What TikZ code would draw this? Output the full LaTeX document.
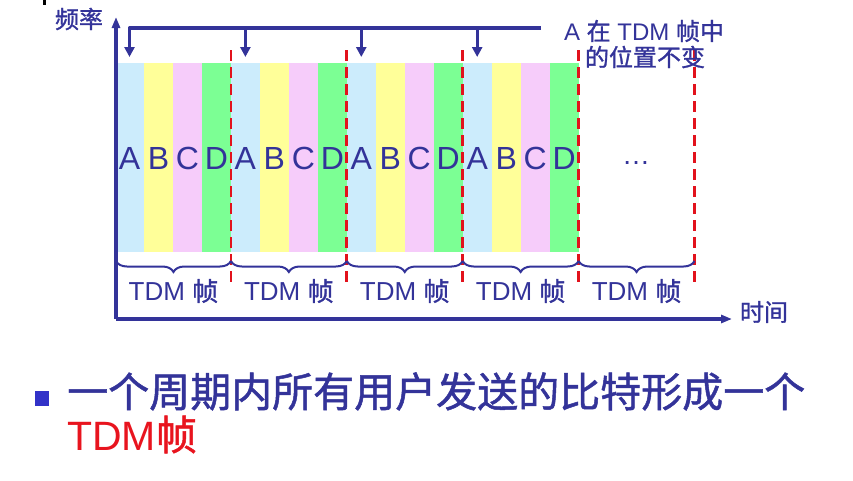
\documentclass[tikz,border=0pt]{standalone}
\usepackage{fontspec}
\setmainfont{Liberation Sans}
\newfontfamily\cjk[FakeBold=1.2]{Noto Sans CJK SC}
\usetikzlibrary{arrows.meta,decorations.pathreplacing}
\definecolor{navy}{RGB}{51,51,153}
\definecolor{sa}{RGB}{204,236,252}
\definecolor{sb}{RGB}{255,255,153}
\definecolor{sc}{RGB}{246,204,250}
\definecolor{sd}{RGB}{124,255,148}
\definecolor{dred}{RGB}{226,18,28}
\definecolor{tred}{RGB}{232,20,30}
\definecolor{bsq}{RGB}{50,50,200}
\tikzset{
  axis/.style={draw=navy,line width=3.2pt,line join=round,-{Triangle[length=11pt,width=8pt]}},
  pointer/.style={draw=navy,line width=3.2pt,line join=round},
  ptip/.style={-{Triangle[length=10pt,width=10pt]}},
  sep/.style={draw=dred,line width=2.8pt,dash pattern=on 11pt off 6pt},
  lett/.style={text=navy,inner sep=0pt,font=\fontsize{32}{36}\selectfont},
  lbl/.style={text=navy,inner sep=0pt,font=\fontsize{24}{28}\selectfont},
  flbl/.style={text=navy,inner sep=0pt,font=\fontsize{26}{30}\selectfont},
  brc/.style={draw=navy,line width=2pt,decorate,decoration={brace,mirror,amplitude=11pt}},
}
\begin{document}
\begin{tikzpicture}[x=1pt,y=-1pt]
\useasboundingbox (0,0) rectangle (853,480);
% small mark at top-left
\fill[black] (43,0) rectangle (46,5);
% strips
\foreach \k in {0,...,3}{
  \foreach \c [count=\j from 0] in {sa,sb,sc,sd}{
    \pgfmathsetmacro{\xl}{115+115.9*\k+28.975*\j}
    \pgfmathsetmacro{\xr}{\xl+28.975}
    \fill[\c] (\xl,63) rectangle (\xr,252);
  }
}
% letters
\foreach \k in {0,...,3}{
  \foreach \l [count=\j from 0] in {A,B,C,D}{
    \pgfmathsetmacro{\xc}{115+115.9*\k+28.975*\j+14.49}
    \node[lett] (L\k\l) at (\xc,158) {\l};
  }
}
\node[lett,font=\fontsize{28}{30}\selectfont,anchor=base] (dots) at (636,164) {…};
% separators
\foreach \k in {1,...,5}{
  \pgfmathsetmacro{\xs}{115+115.9*\k}
  \coordinate (s\k t) at (\xs,50);
  \coordinate (s\k b) at (\xs,284);
  \draw[sep] (s\k t) -- (s\k b);
}
% braces and frame labels
\foreach \k in {0,...,4}{
  \pgfmathsetmacro{\xa}{\k==0 ? 116 : 115+115.9*\k}
  \pgfmathsetmacro{\xb}{115+115.9*(\k+1)}
  \pgfmathsetmacro{\xm}{(\xa+\xb)/2}
  \coordinate (ba\k) at (\xa,261);
  \coordinate (bb\k) at (\xb,261);
  \draw[brc] (ba\k) -- (bb\k);
  \node[flbl] (F\k) at (\xm,291) {TDM {\cjk 帧}};
}
% axes
\coordinate (O) at (116,319);
\coordinate (Ytop) at (116,17);
\coordinate (Xend) at (732,319);
\draw[axis] (O) -- (Ytop);
\draw[axis] (O) -- (Xend);
\node[lbl] (ylab) at (79,19) {\cjk 频率};
\node[lbl] (xlab) at (764,312) {\cjk 时间};
% pointer bracket
\foreach \k in {0,...,3}{
  \pgfmathsetmacro{\xc}{115+115.9*\k+14.49}
  \coordinate (t\k) at (\xc,28);
  \coordinate (h\k) at (\xc,57);
}
\coordinate (tR) at (541,28);
\draw[pointer,ptip] (tR) -- (t0) -- (h0);
\foreach \k in {1,...,3}{
  \draw[pointer,ptip] (t\k) -- (h\k);
}
\node[lbl] (lab1) at (644,31) {A {\cjk 在} TDM {\cjk 帧中}};
\node[lbl] (lab2) at (645,57) {\cjk 的位置不变};
% bullet
\fill[bsq] (35,391) rectangle (49,406);
\node[text=navy,inner sep=0pt,anchor=base west,font=\fontsize{41}{44}\selectfont] (b1) at (67,407) {\cjk 一个周期内所有用户发送的比特形成一个};
\node[text=tred,inner sep=0pt,anchor=base west,font=\fontsize{41}{44}\selectfont] (b2) at (67,450) {TDM{\cjk 帧}};
\end{tikzpicture}
\end{document}
